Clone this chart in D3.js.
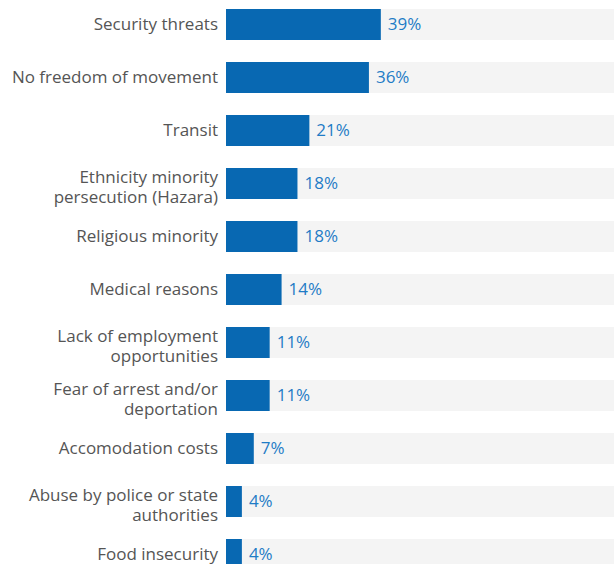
<!DOCTYPE html>
<html>
<head>
<meta charset="utf-8">
<script src="https://cdn.jsdelivr.net/npm/d3@7"></script>
<style>
  html, body { margin: 0; padding: 0; background: #fff; }
  svg { display: block; }
</style>
</head>
<body>
<div id="chart"></div>
<script>
// Reasons given, with share of respondents (%)
const categories = [
  ["Security threats"],
  ["No freedom of movement"],
  ["Transit"],
  ["Ethnicity minority", "persecution (Hazara)"],
  ["Religious minority"],
  ["Medical reasons"],
  ["Lack of employment", "opportunities"],
  ["Fear of arrest and/or", "deportation"],
  ["Accomodation costs"],
  ["Abuse by police or state", "authorities"],
  ["Food insecurity"]
];
const values = [39, 36, 21, 18, 18, 14, 11, 11, 7, 4, 4];

const width = 614, height = 564;
const barLeft = 226;
const fontFamily = "'Open Sans', sans-serif";
const fontSize = "17px";

const svg = d3.select("#chart").append("svg")
  .attr("width", width).attr("height", height);

// one row every 53px, first bar top at 9
const yb = d3.scaleBand()
  .domain(d3.range(categories.length))
  .range([9, 9 + 53 * 11])
  .paddingInner(0);

const x = d3.scaleLinear().domain([0, 100]).range([0, 397]);
const barH = 31;
const mid = barH / 2;

const rows = svg.selectAll("g.row")
  .data(values)
  .join("g")
  .attr("class", "row")
  .attr("transform", (d, i) => `translate(0,${yb(i)})`);

// background track
rows.append("rect")
  .attr("x", barLeft)
  .attr("y", 0)
  .attr("width", x(100))
  .attr("height", barH)
  .attr("fill", "#f4f4f4");

// value bar
rows.append("rect")
  .attr("x", barLeft)
  .attr("y", 0)
  .attr("width", d => x(d))
  .attr("height", barH)
  .attr("fill", "#0868b2");

// value label
rows.append("text")
  .attr("x", d => barLeft + x(d) + 7)
  .attr("y", mid + 5.5)
  .attr("fill", "#1f7cc6")
  .style("font-family", fontFamily)
  .style("font-size", fontSize)
  .text(d => d + "%");

// category labels (one or two lines, right-aligned against the bar)
const lh = 20.4;
rows.each(function(d, i) {
  const lines = categories[i];
  const n = lines.length;
  const t = d3.select(this).append("text")
    .attr("text-anchor", "end")
    .attr("fill", "#555555")
    .style("font-family", fontFamily)
    .style("font-size", fontSize);
  lines.forEach((ln, k) => {
    t.append("tspan")
      .attr("x", barLeft - 8)
      .attr("y", mid + 5 + (k - (n - 1) / 2) * lh + (n - 1) * 4.5)
      .text(ln);
  });
});
</script>
</body>
</html>
